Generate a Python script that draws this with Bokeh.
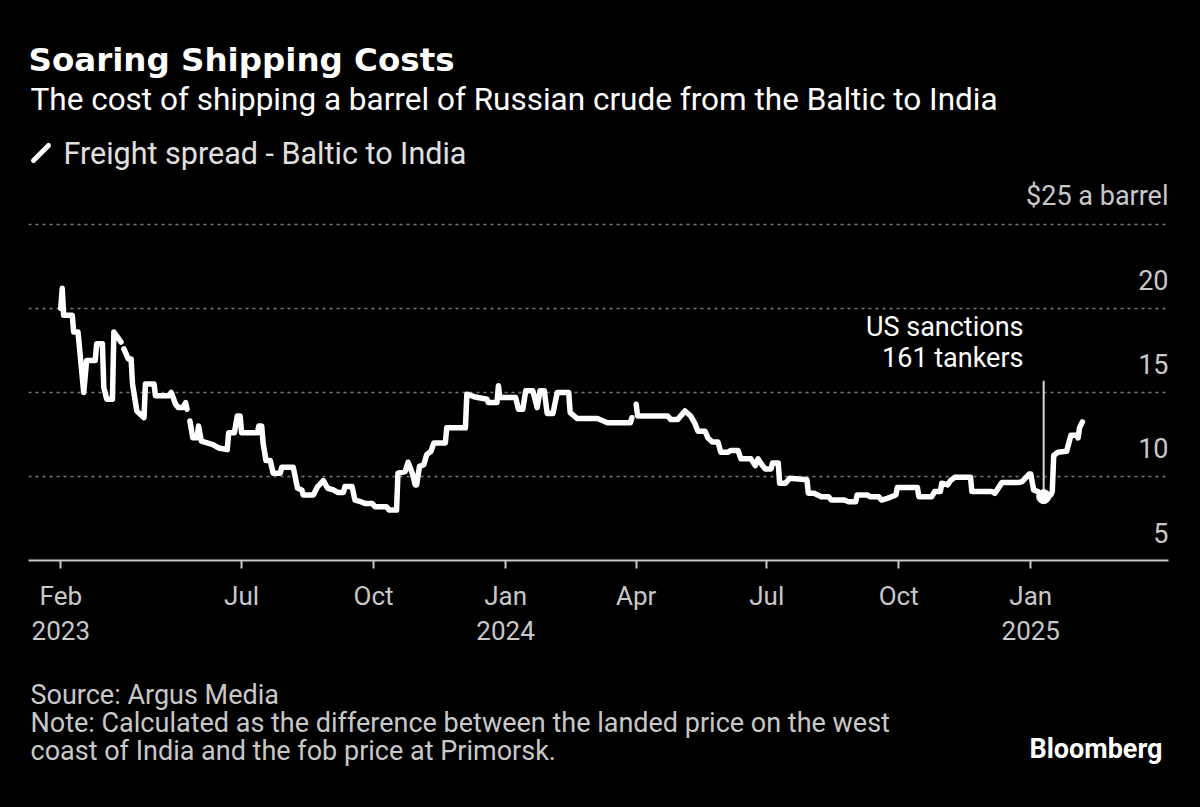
import numpy as np
import pandas as pd
from bokeh.plotting import figure
from bokeh.layouts import column
from bokeh.models import Range1d, FixedTicker, Label, Arrow, ColumnDataSource
from bokeh.core.properties import value
from bokeh.embed import file_html
from bokeh.resources import INLINE

# ---------------- data ----------------
dates = [
    "2023-02-25", "2023-02-26", "2023-02-27", "2023-03-05", "2023-03-06", "2023-03-09",
    "2023-03-13", "2023-03-15", "2023-03-21", "2023-03-22", "2023-03-26", "2023-03-27",
    "2023-03-29", "2023-04-02", "2023-04-03", "2023-04-08", "2023-04-09", "2023-04-10",
    "2023-04-13", "2023-04-15", "2023-04-16", "2023-04-19", "2023-04-24", "2023-04-25",
    "2023-05-01", "2023-05-02", "2023-05-11", "2023-05-13", "2023-05-16", "2023-05-18",
    "2023-05-21", "2023-05-23", "2023-05-24", "2023-05-25", "2023-05-26", "2023-05-28",
    "2023-05-31", "2023-06-01", "2023-06-03", "2023-06-07", "2023-06-11", "2023-06-15",
    "2023-06-21", "2023-06-22", "2023-06-26", "2023-06-28", "2023-06-30", "2023-07-01",
    "2023-07-12", "2023-07-13", "2023-07-15", "2023-07-16", "2023-07-18", "2023-07-21",
    "2023-07-23", "2023-07-28", "2023-07-29", "2023-08-06", "2023-08-09", "2023-08-12",
    "2023-08-13", "2023-08-20", "2023-08-23", "2023-08-27", "2023-08-30", "2023-09-03",
    "2023-09-06", "2023-09-10", "2023-09-11", "2023-09-16", "2023-09-18", "2023-09-22",
    "2023-09-25", "2023-09-30", "2023-10-02", "2023-10-10", "2023-10-12", "2023-10-17",
    "2023-10-18", "2023-10-23", "2023-10-25", "2023-10-28", "2023-10-30", "2023-10-31",
    "2023-11-02", "2023-11-05", "2023-11-07", "2023-11-10", "2023-11-12", "2023-11-20",
    "2023-11-21", "2023-12-04", "2023-12-05", "2023-12-10", "2023-12-19", "2023-12-20",
    "2023-12-26", "2023-12-27", "2023-12-28", "2024-01-08", "2024-01-10", "2024-01-13",
    "2024-01-15", "2024-01-20", "2024-01-23", "2024-01-25", "2024-01-28", "2024-01-30",
    "2024-02-03", "2024-02-06", "2024-02-14", "2024-02-15", "2024-02-20", "2024-03-05",
    "2024-03-12", "2024-03-28", "2024-03-29", "2024-03-30", "2024-04-01", "2024-04-02",
    "2024-04-23", "2024-04-25", "2024-04-30", "2024-05-05", "2024-05-09", "2024-05-12",
    "2024-05-14", "2024-05-19", "2024-05-21", "2024-05-24", "2024-05-28", "2024-05-30",
    "2024-06-04", "2024-06-06", "2024-06-11", "2024-06-13", "2024-06-20", "2024-06-23",
    "2024-06-25", "2024-06-28", "2024-06-30", "2024-07-04", "2024-07-05", "2024-07-09",
    "2024-07-10", "2024-07-14", "2024-07-17", "2024-07-29", "2024-07-30", "2024-08-03",
    "2024-08-08", "2024-08-13", "2024-08-15", "2024-08-24", "2024-08-27", "2024-09-01",
    "2024-09-02", "2024-09-09", "2024-09-11", "2024-09-17", "2024-09-19", "2024-09-23",
    "2024-09-29", "2024-09-30", "2024-10-14", "2024-10-15", "2024-10-24", "2024-10-26",
    "2024-10-30", "2024-10-31", "2024-11-04", "2024-11-06", "2024-11-09", "2024-11-20",
    "2024-11-21", "2024-12-05", "2024-12-07", "2024-12-12", "2024-12-24", "2024-12-26",
    "2024-12-31", "2025-01-01", "2025-01-03", "2025-01-06", "2025-01-10", "2025-01-15",
    "2025-01-16", "2025-01-17", "2025-01-20", "2025-01-26", "2025-01-29", "2025-02-02",
    "2025-02-03", "2025-02-04", "2025-02-06",
]
spread = [
    20.0, 21.2, 19.6, 19.6, 18.6, 18.6,
    15.0, 16.9, 16.9, 17.9, 17.9, 15.3,
    14.6, 14.6, 18.6, 18.0, None, 17.6,
    17.0, 17.0, 15.5, 13.9, 13.5, 15.5,
    15.5, 14.8, 14.8, 15.0, 14.3, 14.1,
    14.1, 14.4, 14.0, None, 13.3, 12.3,
    12.3, 13.0, 12.1, 12.0, 11.9, 11.7,
    11.6, 12.6, 12.6, 13.6, 13.6, 12.6,
    12.6, 13.0, 13.0, 12.0, 10.95, 10.95,
    10.2, 10.2, 10.55, 10.55, 9.3, 9.2,
    8.9, 8.9, 9.4, 9.75, 9.3, 9.2,
    9.05, 9.05, 9.4, 9.4, 8.6, 8.5,
    8.4, 8.4, 8.2, 8.2, 8.0, 8.0,
    10.2, 10.3, 10.85, 10.2, 9.5, 9.5,
    10.6, 10.7, 11.3, 11.5, 12.0, 12.0,
    12.9, 12.9, 14.9, 14.75, 14.6, 14.4,
    14.4, 15.4, 14.7, 14.7, 14.0, 14.0,
    15.1, 15.1, 14.1, 15.1, 15.1, 13.75,
    13.75, 15.0, 15.0, 13.8, 13.45, 13.45,
    13.2, 13.2, 13.5, None, 14.3, 13.6,
    13.6, 13.4, 13.4, 13.9, 13.6, 13.15,
    12.7, 12.7, 12.3, 12.05, 12.05, 11.45,
    11.45, 11.55, 11.55, 11.05, 11.05, 10.65,
    11.05, 10.65, 10.45, 10.45, 10.8, 10.8,
    9.6, 9.6, 9.9, 9.8, 9.0, 9.0,
    8.8, 8.8, 8.6, 8.6, 8.5, 8.5,
    8.9, 8.9, 8.8, 8.8, 8.6, 8.7,
    8.9, 9.35, 9.35, 8.8, 8.8, 9.1,
    9.1, 9.6, 9.5, 9.75, 9.95, 9.95,
    9.1, 9.1, 9.0, 9.65, 9.65, 9.7,
    10.15, 10.15, 9.2, 9.1, 8.8, 8.9,
    9.1, 11.25, 11.45, 11.5, 12.45, 12.45,
    12.3, 12.9, 13.25,
]

tick_dates = ["2023-02-25", "2023-07-01", "2023-10-01", "2024-01-01",
              "2024-04-01", "2024-07-01", "2024-10-01", "2025-01-01"]
tick_labels = ["Feb\n2023", "Jul", "Oct", "Jan\n2024", "Apr", "Jul", "Oct", "Jan\n2025"]

y_ticks = [5, 10, 15, 20, 25]
y_tick_labels = ["5", "10", "15", "20", "$25 a barrel"]

event_date = ["2025-01-10"]
event_value = [8.8]
event_line_top = [15.7]

x_start, x_end = "2023-02-02 12:00", "2025-04-07"
y_start, y_end = 5, 38.333

title = "Soaring Shipping Costs"
subtitle = "The cost of shipping a barrel of Russian crude from the Baltic to India"
legend_label = "Freight spread - Baltic to India"
note_lines = ["Source: Argus Media",
              "Note: Calculated as the difference between the landed price on the west",
              "coast of India and the fob price at Primorsk."]
brand = "Bloomberg"
event_text = ["US sanctions", "161 tankers"]

# ---------------- styling ----------------
SANS = "Roboto"
BOLD = "DejaVu Sans"
GRAY = "#c8c8c8"


def to_ms(seq):
    return [int((pd.Timestamp(s) - pd.Timestamp("1970-01-01")) // pd.Timedelta(milliseconds=1)) for s in seq]


p = figure(width=1200, height=660, output_backend="svg", toolbar_location=None,
           x_axis_type="datetime", title=None,
           x_range=Range1d(pd.Timestamp(x_start), pd.Timestamp(x_end)),
           y_range=Range1d(y_start, y_end),
           min_border_left=28, min_border_right=32, min_border_top=0, min_border_bottom=100)
p.background_fill_color = "black"
p.border_fill_color = "black"
p.outline_line_color = None

# axes
p.yaxis.visible = False
ax = p.xaxis[0]
ax.ticker = FixedTicker(ticks=to_ms(tick_dates))
ax.major_label_overrides = dict(zip(to_ms(tick_dates), tick_labels))
ax.axis_line_color = GRAY
ax.axis_line_width = 2
ax.major_tick_line_color = GRAY
ax.major_tick_line_width = 2
ax.major_tick_out = 8
ax.major_tick_in = 0
ax.minor_tick_line_color = None
ax.major_label_text_color = GRAY
ax.major_label_text_font = SANS
ax.major_label_text_font_size = "26px"
ax.major_label_text_line_height = 1.17
ax.major_label_standoff = 12

p.xgrid.grid_line_color = None
p.ygrid.ticker = FixedTicker(ticks=y_ticks[1:])
p.ygrid.grid_line_color = "#7a7a7a"
p.ygrid.grid_line_dash = "3 4"
p.ygrid.grid_line_width = 1.5

# y tick labels (above grid lines, right aligned)
ylab = ColumnDataSource(dict(x=[pd.Timestamp(x_end)] * len(y_ticks), y=y_ticks, t=y_tick_labels))
p.text(x="x", y="y", text="t", source=ylab, text_align="right", text_baseline="middle",
       y_offset=-28, x_offset=0, text_color=GRAY, text_font=value(SANS), text_font_size="27px")

# main line
src = ColumnDataSource(dict(x=pd.to_datetime(dates),
                            y=np.array([np.nan if v is None else v for v in spread], dtype=float)))
p.line("x", "y", source=src, line_color="white", line_width=5.5, line_join="round", line_cap="round")

# sanctions annotation
p.segment(x0=pd.to_datetime(event_date), y0=event_value, x1=pd.to_datetime(event_date), y1=event_line_top,
          line_color="#d8d8d8", line_width=2)
p.scatter(x=pd.to_datetime(event_date), y=event_value, size=14, fill_color="white", line_color="white")


def lab(fig, text, x, y, size, color, font=SANS, style="normal", align="left"):
    fig.add_layout(Label(x=x, y=y, x_units="screen", y_units="screen", text=text,
                         text_font=font, text_font_size=size, text_font_style=style,
                         text_color=color, text_align=align, text_baseline="middle"))


lab(p, event_text[0], 995, 234, "27px", "white", align="right")
lab(p, event_text[1], 995, 203, "27px", "white", align="right")

# titles (frame origin is page (28, 560))
lab(p, title, 0, 501, "32.5px", "white", font=BOLD, style="bold")
lab(p, subtitle, 2, 461, "31.5px", "white")

# legend
p.add_layout(Arrow(end=None, x_start=5, y_start=400, x_end=20, y_end=415,
                   start_units="screen", end_units="screen",
                   line_color="white", line_width=5, line_cap="round"))
lab(p, legend_label, 35, 407, "30.5px", "#e0e0e0")

# ---------------- footer ----------------
f = figure(width=1200, height=147, output_backend="svg", toolbar_location=None, title=None,
           x_range=Range1d(0, 1200), y_range=Range1d(0, 147),
           min_border_left=28, min_border_right=32, min_border_top=0, min_border_bottom=0)
f.axis.visible = False
f.grid.visible = False
f.background_fill_color = "black"
f.border_fill_color = "black"
f.outline_line_color = None
# frame origin is page (28, 807)
lab(f, note_lines[0], 2, 113, "27px", GRAY)
lab(f, note_lines[1], 2, 85, "27px", GRAY)
lab(f, note_lines[2], 2, 57, "27px", GRAY)
lab(f, brand, 1134, 59, "27px", "white", style="bold", align="right")

layout = column(p, f, spacing=0)
html = file_html(layout, INLINE)
html = html.replace("<head>", "<head><style>html,body{background:#000;}</style>", 1)
open("out.html", "w").write(html)
